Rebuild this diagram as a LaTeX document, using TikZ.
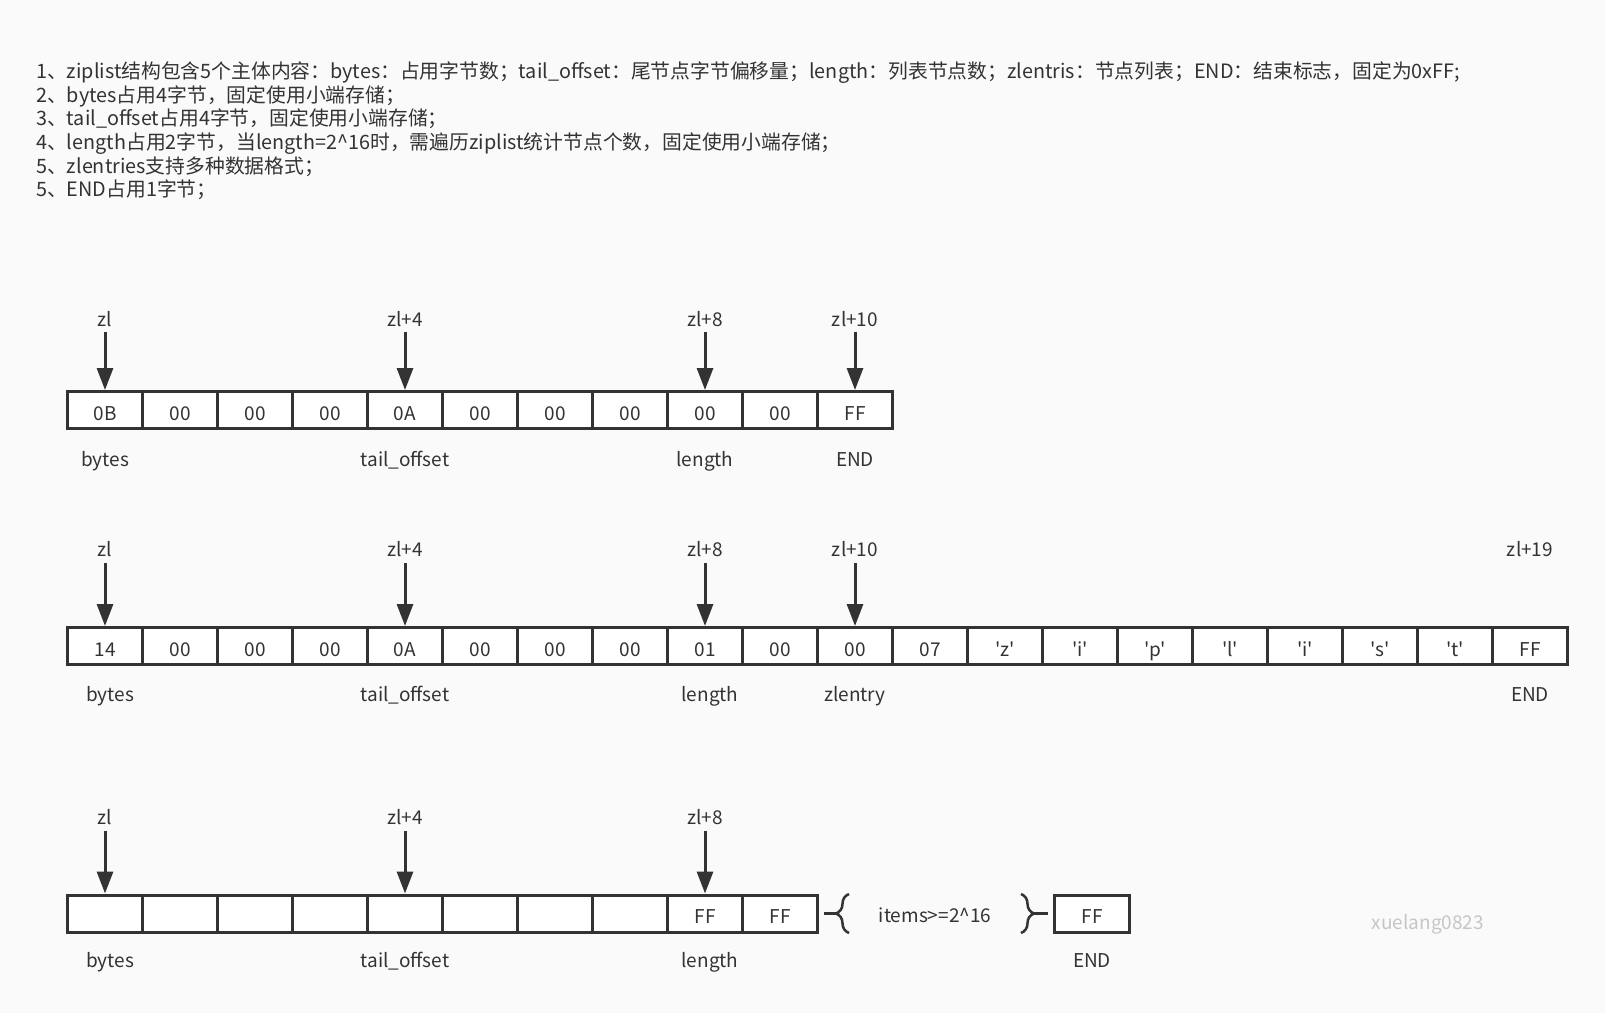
\documentclass[tikz,border=0pt]{standalone}
\usepackage{fontspec}
\newfontfamily\cjk{Noto Sans CJK SC}
\usetikzlibrary{arrows.meta,positioning,decorations.pathreplacing}
\definecolor{ink}{HTML}{333333}
\definecolor{paper}{HTML}{FAFAFA}
\definecolor{wmark}{HTML}{C6C6C6}
\tikzset{
	cell/.style={draw=ink,line width=3pt,fill=white,minimum width=75pt,minimum height=37pt,inner sep=0pt,text=ink,text height=20pt,text depth=0pt},
	tag/.style={text=ink,inner sep=0pt},
	ptr/.style={draw=ink,line width=3pt,-{Triangle[width=16pt,length=22pt]}},
	note/.style={text=ink,inner sep=0pt,anchor=base west,font=\cjk\fontsize{19.8}{24}\selectfont},
	curly/.style={draw=ink,line width=2.5pt,decorate,decoration={brace,amplitude=13pt}}
}
\begin{document}
\begin{tikzpicture}[x=1pt,y=-1pt,font=\cjk\fontsize{19}{23}\selectfont]
	\fill[paper] (0,0) rectangle (1605,1013);
	\useasboundingbox (0,0) rectangle (1605,1013);
	\foreach \s [count=\i] in {
		{1、ziplist结构包含5个主体内容：bytes：占用字节数；tail\_offset：尾节点字节偏移量；length：列表节点数；zlentris：节点列表；END：结束标志，固定为0xFF;},
		{2、bytes占用4字节，固定使用小端存储；},
		{3、tail\_offset占用4字节，固定使用小端存储；},
		{4、length占用2字节，当length=2\textasciicircum16时，需遍历ziplist统计节点个数，固定使用小端存储；},
		{5、zlentries支持多种数据格式；},
		{5、END占用1字节；}}
	\node[note] (n\i) at (36,54.6+23.7*\i) {\s};
	\foreach \v [count=\i from 0] in {0B,00,00,00,0A,00,00,00,00,00,FF}
	\node[cell] (a\i) at (105+75*\i,410) {\v};
	\foreach \j/\lbl in {0/zl,4/zl+4,8/zl+8,10/zl+10}{
		\node[tag,anchor=base] (pa\j) at (105+75*\j,326) {\lbl};
		\draw[ptr] ([yshift=-6pt]pa\j.south) -- (a\j.north);
	}
	\foreach \j/\dx/\lbl in {0/0/bytes,4/0/tail\_offset,8/0/length,10/0/END}
	\node[tag,anchor=base] (fa\j) at ([xshift=\dx pt,yshift=-36pt]a\j.south) {\lbl};
	\foreach \v [count=\i from 0] in {14,00,00,00,0A,00,00,00,01,00,00,07,'z','i','p','l','i','s','t',FF}
	\node[cell] (b\i) at (105+75*\i,646) {\v};
	\foreach \j/\lbl in {0/zl,4/zl+4,8/zl+8,10/zl+10}{
		\node[tag,anchor=base] (pb\j) at (105+75*\j,556) {\lbl};
		\draw[ptr] ([yshift=-7pt]pb\j.south) -- (b\j.north);
	}
	\node[tag,anchor=base] (pb19) at (105+75*19,556) {zl+19};
	\foreach \j/\dx/\lbl in {0/5/bytes,4/0/tail\_offset,8/5/length,10/0/zlentry,19/0/END}
	\node[tag,anchor=base] (fb\j) at ([xshift=\dx pt,yshift=-35pt]b\j.south) {\lbl};
	\foreach \v [count=\i from 0] in {{},{},{},{},{},{},{},{},FF,FF}
	\node[cell] (c\i) at (105+75*\i,913.5) {\v};
	\foreach \j/\lbl in {0/zl,4/zl+4,8/zl+8}{
		\node[tag,anchor=base] (pc\j) at (105+75*\j,824.3) {\lbl};
		\draw[ptr] ([yshift=-6.5pt]pc\j.south) -- (c\j.north);
	}
	\node[tag,anchor=base] (items) at (935,922.7) {items>=2\textasciicircum16};
	\node[cell] (cend) at (1092,913.5) {FF};
	\foreach \j/\dx/\lbl in {0/5/bytes,4/0/tail\_offset,8/5/length}
	\node[tag,anchor=base] (fc\j) at ([xshift=\dx pt,yshift=-34pt]c\j.south) {\lbl};
	\node[tag,anchor=base] (fcend) at ([yshift=-34pt]cend.south) {END};
	\draw[curly] (849,933) -- (849,894);
	\draw[ink,line width=2.5pt] ([xshift=5pt]c9.east) -- (836,913.5);
	\draw[curly] (1021,894) -- (1021,933);
	\draw[ink,line width=2.5pt] (1034,913.5) -- ([xshift=-5pt]cend.west);
	\node[tag,anchor=base,text=wmark] (wm) at (1428,929) {xuelang0823};
\end{tikzpicture}
\end{document}
